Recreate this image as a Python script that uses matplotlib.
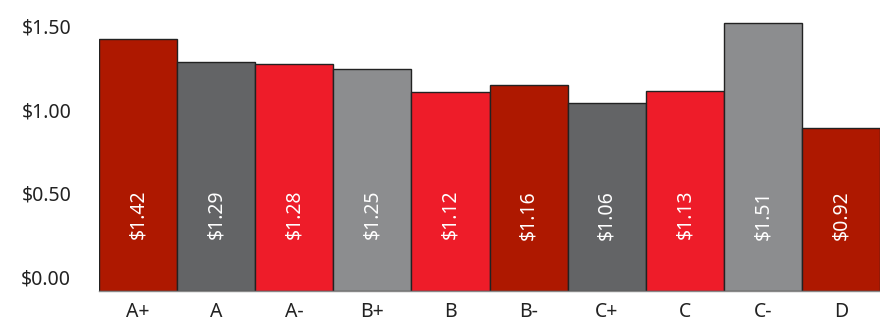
import matplotlib
matplotlib.use("Agg")
import matplotlib.pyplot as plt
import matplotlib.transforms as mtransforms

categories = ["A+", "A", "A-", "B+", "B", "B-", "C+", "C", "C-", "D"]
values = [1.42, 1.29, 1.28, 1.25, 1.12, 1.16, 1.06, 1.13, 1.51, 0.92]
colors = ["#AE1800", "#636466", "#EE1C29", "#8C8D8F", "#EE1C29",
          "#AE1800", "#636466", "#EE1C29", "#8C8D8F", "#AE1800"]
yticks = [0.0, 0.5, 1.0, 1.5]
ytick_labels = ["$0.00", "$0.50", "$1.00", "$1.50"]

plt.rcParams['font.family'] = ['Noto Sans', 'DejaVu Sans']

fig = plt.figure(figsize=(8.8, 3.22), dpi=100)
ax = fig.add_axes([99/880, 31/322, 1 - 99/880, (291 - 16)/322])

x = list(range(len(categories)))
ax.bar(x, values, width=1.0, color=colors, edgecolor="#222222", linewidth=1.0)
ax.set_xlim(-0.5, len(categories) - 0.5)
ax.set_ylim(0, 1.55)

for xi, v in zip(x, values):
    ax.text(xi, 0.43, f"${v:.2f}", rotation=90, ha="center", va="center",
            color="white", fontsize=14)

ax.set_xticks(x)
ax.set_xticklabels(categories, fontsize=14, color="#222222")
ax.set_yticks(yticks)
ax.set_yticklabels(ytick_labels, fontsize=14, color="#222222")
ax.tick_params(axis="both", length=0)
ax.tick_params(axis="x", pad=8)
ax.tick_params(axis="y", pad=20)

for lab, v in zip(ax.get_yticklabels(), yticks):
    dy = (14 - 10 * v) / 100.0
    lab.set_transform(lab.get_transform() + mtransforms.ScaledTranslation(0, dy, fig.dpi_scale_trans))

for s in ["left", "right", "top"]:
    ax.spines[s].set_visible(False)
ax.spines["bottom"].set_color("#888888")
ax.spines["bottom"].set_linewidth(1.0)

fig.savefig("out.png", dpi=100)
